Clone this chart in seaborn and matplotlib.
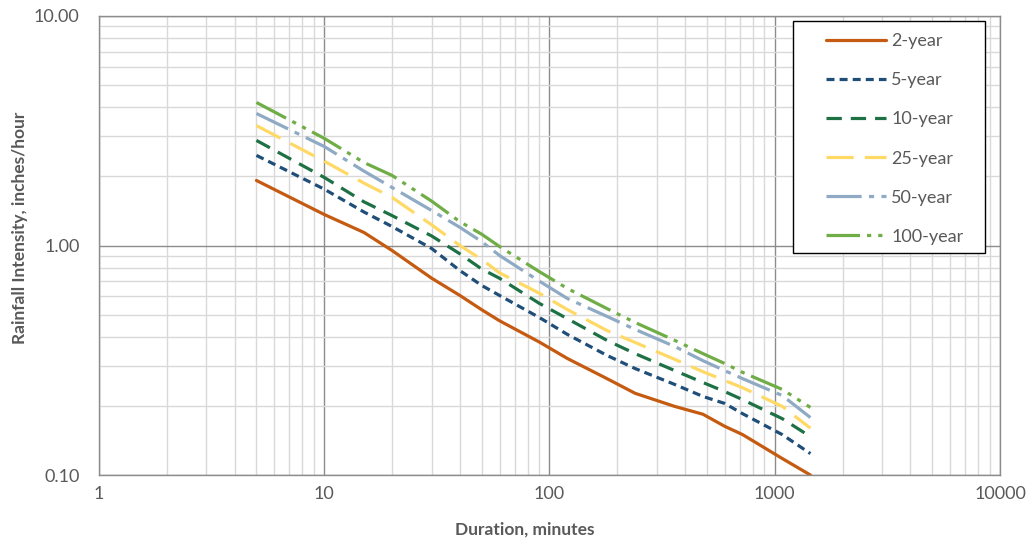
import matplotlib
matplotlib.use("Agg")
import matplotlib.pyplot as plt
import matplotlib.ticker as ticker
from matplotlib.patches import Rectangle
import seaborn as sns
import pandas as pd

# Durations (minutes) and intensities (in/hr)
durations = [5, 10, 15, 20, 30, 40, 50, 60, 90, 120, 180, 240, 360, 480, 600, 720, 1080, 1440]

yr2 = [1.92, 1.365, 1.14, 0.951, 0.72, 0.606, 0.525, 0.47, 0.38, 0.322, 0.263, 0.227,
       0.199, 0.184, 0.163, 0.150, 0.118, 0.100]
yr5 = [2.47, 1.76, 1.40, 1.21, 0.97, 0.778, 0.67, 0.606, 0.486, 0.41, 0.332, 0.291,
       0.248, 0.220, 0.205, 0.185, 0.150, 0.124]
yr10 = [2.87, 1.98, 1.55, 1.35, 1.10, 0.92, 0.79, 0.72, 0.56, 0.48, 0.386, 0.338,
        0.285, 0.253, 0.231, 0.213, 0.176, 0.147]
yr25 = [3.33, 2.33, 1.87, 1.62, 1.23, 1.00, 0.87, 0.76, 0.62, 0.526, 0.426, 0.378,
        0.319, 0.282, 0.258, 0.240, 0.199, 0.160]
yr50 = [3.76, 2.70, 2.11, 1.79, 1.42, 1.20, 1.04, 0.905, 0.70, 0.588, 0.491, 0.431,
        0.363, 0.315, 0.285, 0.263, 0.222, 0.178]
yr100 = [4.20, 2.93, 2.30, 2.02, 1.56, 1.27, 1.12, 0.99, 0.77, 0.65, 0.531, 0.462,
         0.386, 0.338, 0.306, 0.280, 0.236, 0.197]

series_names = ["2-year", "5-year", "10-year", "25-year", "50-year", "100-year"]
series_vals = [yr2, yr5, yr10, yr25, yr50, yr100]

colors = {"2-year": "#C55A11", "5-year": "#1F4E79", "10-year": "#1E7145",
          "25-year": "#FFD966", "50-year": "#8FAAC4", "100-year": "#70AD47"}
dashes = {"2-year": "", "5-year": (2.5, 1.6), "10-year": (4.8, 2.8),
          "25-year": (8.5, 3.5), "50-year": (11, 2.3, 1.6, 2.3),
          "100-year": (10.5, 2.2, 1.3, 2.2, 1.3, 2.2)}

rows = []
for name, vals in zip(series_names, series_vals):
    for d, v in zip(durations, vals):
        rows.append({"Duration": d, "Intensity": v, "Series": name})
df = pd.DataFrame(rows)

sns.set_style("white")
plt.rcParams['font.family'] = ['Lato', 'DejaVu Sans']

fig = plt.figure(figsize=(10.29, 5.44), dpi=100)
ax = fig.add_axes([0.0962, 0.1268, 0.8756, 0.8438])

sns.lineplot(data=df, x="Duration", y="Intensity", hue="Series", style="Series",
             hue_order=series_names, style_order=series_names,
             palette=colors, dashes=dashes, linewidth=2.3, ax=ax)

ax.set_xscale("log")
ax.set_yscale("log")
ax.set_xlim(1, 10000)
ax.set_ylim(0.1, 10)

ax.xaxis.set_major_formatter(ticker.FuncFormatter(lambda v, p: "%d" % v))
ax.yaxis.set_major_formatter(ticker.FuncFormatter(lambda v, p: "%.2f" % v))
ax.xaxis.set_minor_formatter(ticker.NullFormatter())
ax.yaxis.set_minor_formatter(ticker.NullFormatter())
ax.xaxis.set_minor_locator(ticker.LogLocator(base=10, subs=range(2, 10)))
ax.yaxis.set_minor_locator(ticker.LogLocator(base=10, subs=range(2, 10)))

ax.grid(which="major", color="#8C8C8C", linewidth=1.0)
ax.grid(which="minor", color="#D9D9D9", linewidth=1.0)
ax.set_axisbelow(True)
ax.tick_params(which="both", length=0, labelsize=13, colors="#595959")
ax.tick_params(axis="y", pad=14)
ax.tick_params(axis="x", pad=8)
for s in ax.spines.values():
    s.set_color("#8C8C8C")
    s.set_linewidth(1.0)

ax.set_xlabel("Duration, minutes", fontsize=12.5, fontweight="bold", color="#595959")
ax.set_ylabel("Rainfall Intensity, inches/hour", fontsize=12.5, fontweight="bold",
              color="#595959")
# the original places the axis titles a little off centre
ax.xaxis.set_label_coords(0.472, -0.102)
ax.yaxis.set_label_coords(-0.079, 0.539)

# legend box drawn as its own patch so the padding can match the original
box = Rectangle((0.770, 0.484), 0.213, 0.505, transform=ax.transAxes,
                facecolor="white", edgecolor="black", linewidth=1.0, zorder=4)
ax.add_patch(box)

handles, labels = ax.get_legend_handles_labels()
leg = ax.legend(handles, labels, loc="upper left", bbox_to_anchor=(0.807, 0.9625),
                frameon=False, fontsize=13, handlelength=3.3, handletextpad=0.3,
                labelspacing=1.28, borderpad=0, borderaxespad=0)
leg.set_zorder(5)
for t in leg.get_texts():
    t.set_color("#595959")

fig.savefig("out.png", dpi=100)
